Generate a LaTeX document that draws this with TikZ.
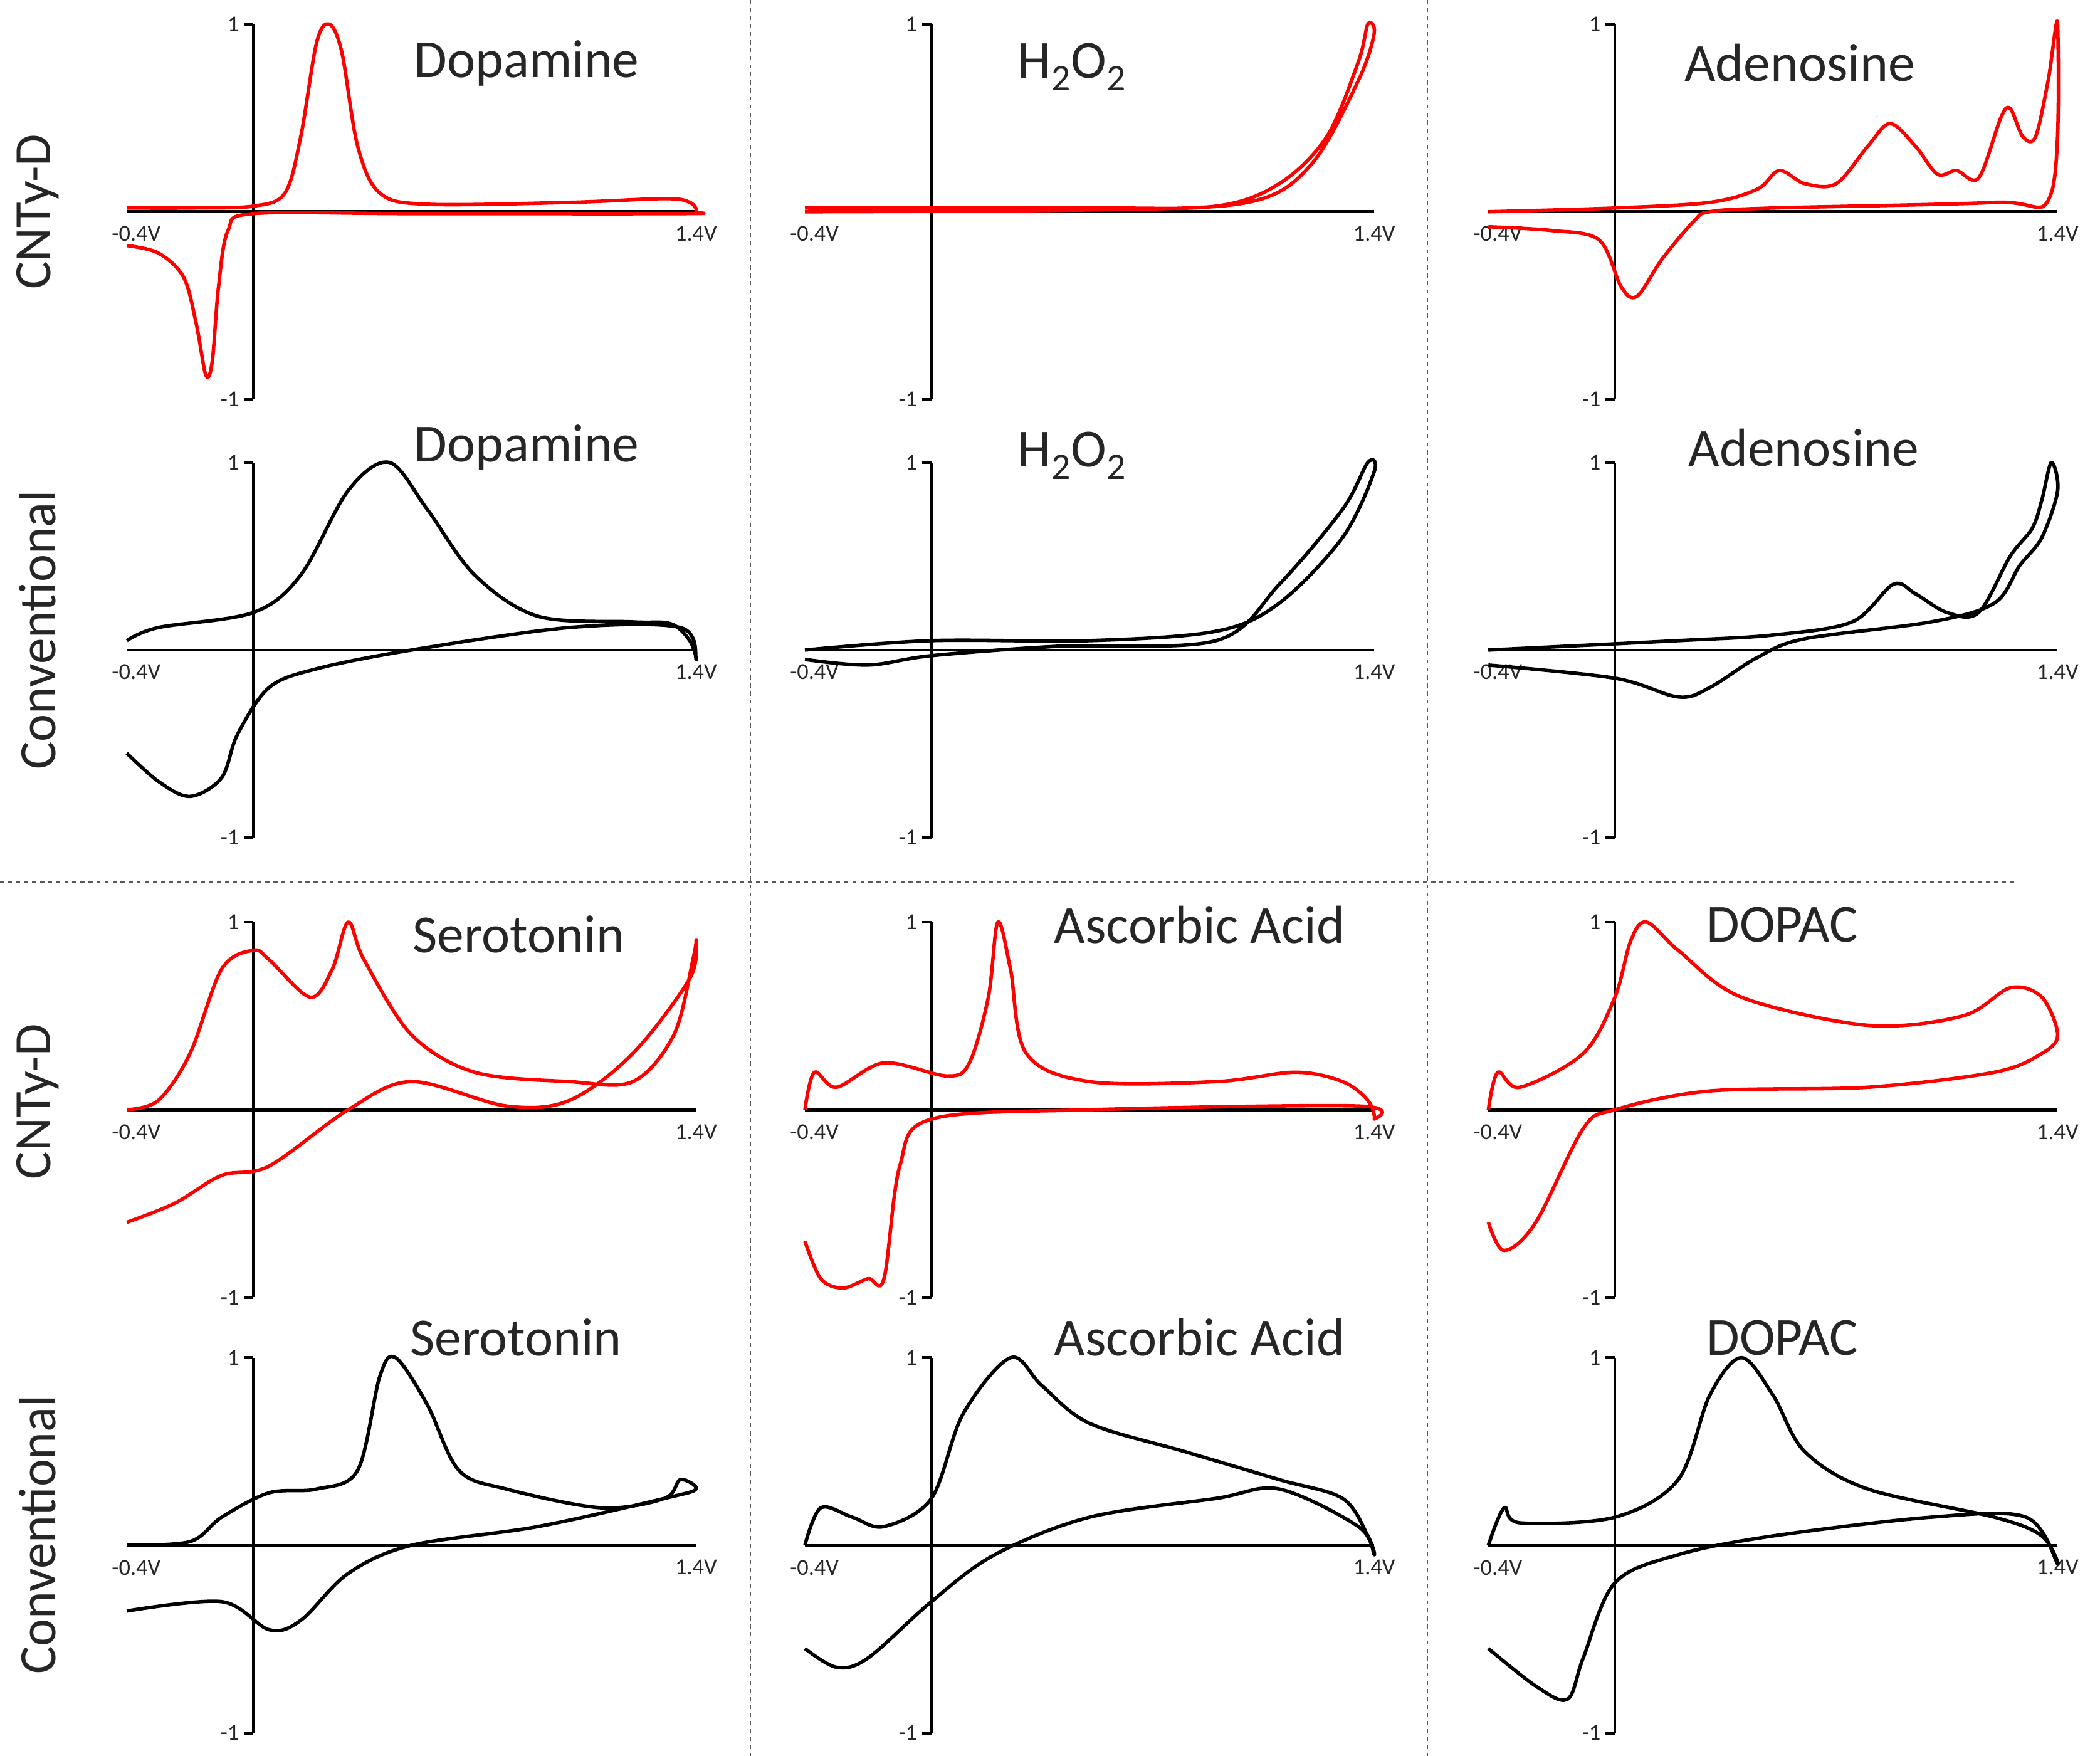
\documentclass[tikz,border=0pt]{standalone}
\usepackage{fontspec}
\setmainfont{Carlito}
\begin{document}
\begin{tikzpicture}[x=1pt,y=-1pt,
  curve/.style={line width=2.6pt,line join=round},
  axis/.style={line width=2.2pt},
  ttl/.style={font=\fontsize{40}{46}\selectfont,text=black!85},
  ax/.style={font=\fontsize{17}{19}\selectfont,inner sep=1pt,text=black!85},
  rowlab/.style={font=\fontsize{39}{44}\selectfont,rotate=90,text=black!85},
  sep/.style={line width=1.2pt,dashed,gray!70!black}]
\useasboundingbox (0,0) rectangle (1567,1310);
\newcommand\cvpanel[5]{%
\begin{scope}[xshift=#1pt,yshift=-#2pt,x=236pt,y=140pt]
 \draw[axis] (-0.4,0) coordinate (#5l) -- (1.4,0) coordinate (#5r);
 \draw[axis] (0,-1) coordinate (#5b) -- (0,1) coordinate (#5t);
 \draw[axis] (#5t) -- ++(-0.03,0); \draw[axis] (#5b) -- ++(-0.03,0);
 \node[ax,anchor=east] (#5one) at (-0.04,1) {1};
 \node[ax,anchor=east] (#5mone) at (-0.04,-1) {-1};
 \node[ax,anchor=north] (#5lo) at (-0.37,-0.07) {-0.4V};
 \node[ax,anchor=north] (#5hi) at (1.4,-0.07) {1.4V};
 \draw[curve,#3] plot[smooth,tension=0.55] coordinates {#4};
\end{scope}}
% separators
\draw[sep] (560,0) coordinate (v1a) -- (560,1310) coordinate (v1b);
\draw[sep] (1065,0) coordinate (v2a) -- (1065,1310) coordinate (v2b);
\draw[sep] (0,658) coordinate (h1a) -- (1505,658) coordinate (h1b);
% row labels
\node[rowlab] (r1) at (28,158) {CNTy-D};
\node[rowlab] (r2) at (28,470) {Conventional};
\node[rowlab] (r3) at (28,822) {CNTy-D};
\node[rowlab] (r4) at (28,1145) {Conventional};
% row 1
\cvpanel{189}{158}{red}{(-0.4,0.02)(-0.2,0.02)(0,0.03)(0.1,0.1)(0.15,0.4)(0.2,0.9)(0.24,1)(0.28,0.85)(0.33,0.35)(0.4,0.1)(0.55,0.04)(1.0,0.05)(1.3,0.07)(1.38,0.05)(1.4,0)(1.35,-0.01)(0.5,-0.01)(0.0,-0.01)(-0.08,-0.1)(-0.11,-0.4)(-0.13,-0.8)(-0.15,-0.87)(-0.18,-0.6)(-0.22,-0.35)(-0.3,-0.22)(-0.4,-0.18)}{a}
\cvpanel{695}{158}{red}{(-0.4,0.02)(0.5,0.02)(0.9,0.03)(1.1,0.15)(1.25,0.4)(1.35,0.8)(1.38,1)(1.4,0.95)(1.35,0.7)(1.2,0.25)(1.0,0.05)(0.5,0.01)(-0.4,0.0)}{b}
\cvpanel{1205}{158}{red}{(-0.4,0.0)(0,0.02)(0.3,0.05)(0.45,0.12)(0.52,0.22)(0.6,0.15)(0.7,0.15)(0.8,0.35)(0.87,0.47)(0.95,0.35)(1.02,0.2)(1.08,0.22)(1.15,0.18)(1.22,0.5)(1.25,0.55)(1.29,0.4)(1.33,0.4)(1.37,0.7)(1.4,1)(1.38,0.1)(1.2,0.05)(0.5,0.02)(0.3,0.0)(0.25,-0.05)(0.15,-0.25)(0.07,-0.45)(0.02,-0.4)(-0.05,-0.15)(-0.2,-0.1)(-0.4,-0.08)}{c}
% row 2
\cvpanel{189}{485}{black}{(-0.4,0.05)(-0.3,0.12)(0,0.2)(0.15,0.4)(0.3,0.85)(0.43,1)(0.55,0.75)(0.7,0.4)(0.9,0.18)(1.2,0.15)(1.32,0.14)(1.38,0.05)(1.4,-0.05)(1.35,0.12)(1.0,0.12)(0.5,0.0)(0.2,-0.1)(0.05,-0.2)(-0.05,-0.45)(-0.1,-0.68)(-0.2,-0.78)(-0.3,-0.7)(-0.4,-0.55)}{d}
\cvpanel{695}{485}{black}{(-0.4,0.0)(0,0.05)(0.5,0.05)(0.9,0.1)(1.1,0.25)(1.3,0.6)(1.4,0.95)(1.38,1)(1.3,0.75)(1.1,0.35)(0.9,0.05)(0.4,0.02)(0,-0.03)(-0.2,-0.08)(-0.4,-0.05)}{e}
\cvpanel{1205}{485}{black}{(-0.4,0.0)(0.2,0.05)(0.5,0.08)(0.75,0.15)(0.88,0.35)(0.95,0.3)(1.05,0.2)(1.15,0.2)(1.25,0.5)(1.32,0.65)(1.35,0.8)(1.38,1)(1.4,0.85)(1.35,0.6)(1.28,0.45)(1.2,0.25)(1.0,0.15)(0.6,0.06)(0.45,-0.04)(0.3,-0.2)(0.2,-0.25)(0.0,-0.15)(-0.4,-0.08)}{f}
% row 3
\cvpanel{189}{828}{red}{(-0.4,0.0)(-0.3,0.05)(-0.2,0.3)(-0.1,0.75)(0,0.85)(0.05,0.8)(0.18,0.6)(0.25,0.75)(0.3,1)(0.35,0.8)(0.5,0.4)(0.7,0.2)(1.0,0.15)(1.2,0.15)(1.33,0.4)(1.39,0.8)(1.4,0.9)(1.38,0.7)(1.2,0.3)(1.0,0.05)(0.8,0.02)(0.5,0.15)(0.3,0.0)(0.05,-0.3)(-0.1,-0.35)(-0.25,-0.5)(-0.4,-0.6)}{g}
\cvpanel{695}{828}{red}{(-0.4,0.0)(-0.37,0.2)(-0.3,0.12)(-0.15,0.25)(0.05,0.18)(0.12,0.25)(0.18,0.6)(0.21,1)(0.25,0.75)(0.3,0.3)(0.5,0.15)(0.9,0.15)(1.15,0.2)(1.3,0.15)(1.38,0.05)(1.4,-0.05)(1.35,0.02)(0.5,0.0)(0.0,-0.05)(-0.1,-0.3)(-0.15,-0.9)(-0.2,-0.9)(-0.28,-0.95)(-0.35,-0.9)(-0.4,-0.7)}{h}
\cvpanel{1205}{828}{red}{(-0.4,0.0)(-0.37,0.2)(-0.3,0.12)(-0.1,0.3)(0.0,0.6)(0.05,0.9)(0.1,1)(0.2,0.85)(0.4,0.6)(0.8,0.45)(1.1,0.5)(1.25,0.65)(1.35,0.6)(1.4,0.4)(1.35,0.3)(1.2,0.2)(0.8,0.12)(0.3,0.1)(0.0,0.0)(-0.1,-0.1)(-0.25,-0.6)(-0.35,-0.75)(-0.4,-0.6)}{i}
% row 4
\cvpanel{189}{1153}{black}{(-0.4,0.0)(-0.2,0.02)(-0.1,0.15)(0.05,0.28)(0.2,0.3)(0.33,0.4)(0.4,0.9)(0.45,1)(0.55,0.75)(0.65,0.4)(0.8,0.3)(1.1,0.2)(1.3,0.25)(1.35,0.35)(1.4,0.3)(1.3,0.25)(0.9,0.1)(0.5,0.0)(0.3,-0.15)(0.15,-0.4)(0.05,-0.45)(-0.1,-0.3)(-0.4,-0.35)}{j}
\cvpanel{695}{1153}{black}{(-0.4,0.0)(-0.35,0.2)(-0.25,0.15)(-0.15,0.1)(0.0,0.25)(0.1,0.7)(0.25,1)(0.35,0.85)(0.5,0.65)(0.8,0.5)(1.1,0.35)(1.3,0.25)(1.38,0.05)(1.4,-0.05)(1.35,0.1)(1.1,0.3)(0.9,0.25)(0.5,0.15)(0.2,-0.05)(0.0,-0.3)(-0.2,-0.6)(-0.3,-0.65)(-0.4,-0.55)}{k}
\cvpanel{1205}{1153}{black}{(-0.4,0.0)(-0.35,0.2)(-0.3,0.12)(0.0,0.15)(0.2,0.35)(0.3,0.8)(0.4,1)(0.5,0.8)(0.6,0.5)(0.8,0.3)(1.2,0.15)(1.35,0.05)(1.4,-0.1)(1.3,0.15)(1.0,0.15)(0.5,0.05)(0.2,-0.05)(0.0,-0.2)(-0.1,-0.6)(-0.15,-0.82)(-0.25,-0.75)(-0.4,-0.55)}{l}
% titles
\node[ttl] (t1) at (393,47) {Dopamine};
\node[ttl] (t2) at (800,50) {H\textsubscript{2}O\textsubscript{2}};
\node[ttl] (t3) at (1343,47) {Adenosine};
\node[ttl] (t4) at (393,334) {Dopamine};
\node[ttl] (t5) at (800,340) {H\textsubscript{2}O\textsubscript{2}};
\node[ttl] (t6) at (1346,334) {Adenosine};
\node[ttl] (t7) at (387,697) {Serotonin};
\node[ttl] (t8) at (895,690) {Ascorbic Acid};
\node[ttl] (t9) at (1330,690) {DOPAC};
\node[ttl] (t10) at (385,998) {Serotonin};
\node[ttl] (t11) at (895,998) {Ascorbic Acid};
\node[ttl] (t12) at (1330,998) {DOPAC};
\end{tikzpicture}
\end{document}
